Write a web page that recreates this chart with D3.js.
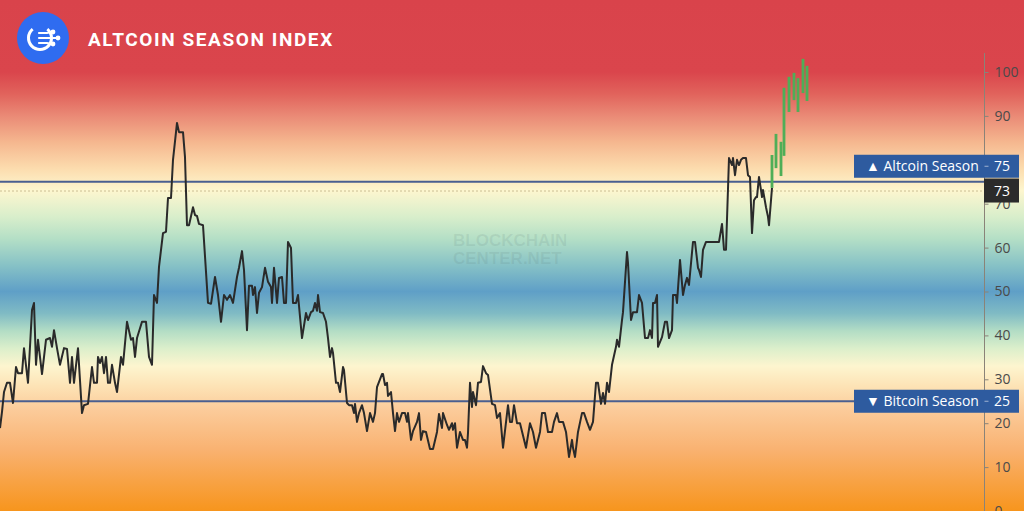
<!DOCTYPE html>
<html><head><meta charset="utf-8">
<script src="https://cdn.jsdelivr.net/npm/d3@7"></script>
<style>html,body{margin:0;padding:0;overflow:hidden;background:#fff}svg{display:block}</style>
</head><body>
<script>
// ---- DATA ----
const title = "ALTCOIN SEASON INDEX";
const watermark = ["BLOCKCHAIN", "CENTER.NET"];
const dayOffsets = [0,2,4,7,10,13,16,18,22,24,28,32,34,36,38,42,46,50,52,54,57,60,64,67,70,72,74,78,82,84,88,92,94,97,98,100,102,104,106,108,110,112,115,117,121,123,127,131,133,135,137,142,146,149,152,154,157,159,163,166,168,171,173,177,179,183,185,187,189,193,195,197,199,203,208,211,215,218,221,224,227,230,233,237,239,242,244,247,249,252,253,255,257,259,262,265,268,271,272,274,277,279,282,284,286,288,291,293,296,298,302,306,308,311,313,315,317,318,320,323,326,328,330,332,333,336,338,340,343,344,347,349,352,354,355,357,359,362,364,367,370,373,375,377,382,383,385,387,388,391,393,395,397,399,402,405,407,408,411,413,417,419,421,423,426,430,433,437,439,442,443,447,449,452,453,455,457,460,463,465,467,468,470,472,473,476,478,481,483,486,488,492,495,497,500,503,508,510,512,514,517,520,526,530,533,536,540,542,545,548,552,554,557,559,563,566,569,572,573,575,578,582,584,587,590,593,596,598,601,603,605,607,609,612,616,617,619,622,623,627,628,631,633,637,639,642,645,648,650,652,653,655,657,658,662,665,667,669,672,673,676,677,680,683,685,687,689,693,695,698,699,701,703,706,719,722,724,726,729,732,733,735,737,739,741,743,746,748,750,752,754,756,757,759,761,762,763,766,768,769,772];
const indexValues = [18.9,22.6,27.1,29.2,29.2,24.6,32.8,31.4,31.4,37.1,29.2,45.8,47.4,33.3,39.0,31.2,39.0,39.4,37.4,41.2,37.1,33.3,37.1,36.9,29.2,35.1,29.2,37.1,22.3,24.1,24.4,32.8,29.2,29.2,35.1,33.7,35.1,31.4,35.1,29.2,29.2,33.3,29.2,27.1,35.1,33.3,43.1,39.0,39.4,35.1,39.4,43.1,43.1,35.1,33.3,49.2,47.4,55.6,63.3,63.6,71.3,71.3,80.0,88.4,86.3,86.3,80.6,65.1,65.1,69.2,67.4,67.2,65.4,65.1,47.4,47.2,53.3,49.2,43.1,49.2,48.1,49.2,47.4,53.3,55.4,59.2,54.9,41.2,51.3,51.3,49.2,51.0,45.1,49.7,51.0,55.4,52.2,51.0,47.4,55.4,47.4,53.1,53.3,47.4,47.4,61.3,59.9,47.4,47.4,49.2,39.4,45.1,43.5,45.3,45.6,47.4,45.6,49.2,45.3,45.1,43.1,39.4,35.1,37.1,36.0,29.2,29.2,27.1,32.8,32.1,24.6,24.1,24.1,22.3,24.4,20.3,22.3,24.1,22.3,18.2,22.3,20.3,22.3,28.2,31.2,31.2,28.7,29.2,26.2,27.1,22.3,18.2,22.3,20.3,22.3,22.3,20.3,22.3,16.2,18.2,20.3,22.3,16.2,18.2,18.0,14.1,14.1,18.0,22.1,18.9,22.3,19.6,18.5,20.0,18.5,20.0,14.4,18.0,16.2,16.2,14.4,17.8,29.2,23.7,27.1,24.1,29.2,29.4,33.0,31.4,31.0,24.4,24.1,21.2,22.3,14.4,24.1,20.3,20.3,24.1,20.0,20.0,14.4,20.0,18.0,14.4,18.0,22.3,22.3,18.0,18.0,20.3,22.3,20.3,20.3,18.0,12.3,16.2,14.4,12.3,18.0,22.3,22.3,20.3,18.5,20.3,29.2,29.2,24.4,26.9,24.4,29.2,27.1,33.3,37.4,39.0,37.4,43.5,45.3,59.0,56.5,43.5,45.3,45.3,49.2,47.4,39.4,39.4,41.2,39.4,47.4,47.4,49.2,37.4,39.6,43.1,43.1,39.4,41.2,49.2,49.2,47.4,57.2,49.2,51.5,53.1,51.5,61.3,61.3,55.4,54.9,53.3,59.5,61.3,61.3,65.4,59.5,59.5,80.4,78.8,80.4,76.5,80.0,78.8,80.0,80.4,80.4,76.5,76.1,63.3,70.8,71.5,71.5,76.1,73.1,71.5,73.1,69.2,67.0,65.1,73.6];
// recent period ranges (green)
const recentDays = [772,776,781,784,789,794,798,803,807];
const recentLow  = [73.6,78.1,76.3,80.9,90.9,93.6,90.9,95.2,93.4];
const recentHigh = [81.1,85.9,84.1,96.4,98.9,99.8,98.6,103.0,101.4];
const yTicks = [0,10,20,30,40,50,60,70,80,90,100];
const hiddenTickLabels = [80]; // covered by the Altcoin Season tag
const seasonLevels = [75, 25];
const seasonLabels = ["\u25B2 Altcoin Season", "\u25BC Bitcoin Season"];
const currentValue = 73;
const bgLevels = [117,100,95,90,84,78,73,67,62,56,50,45,41,37,33,28,23,14,7,0];
const bgColors = ["#d9434b","#da454c","#e1635c","#ea8a76","#f5b78f","#fcdcae","#fdf6cf","#d8eecb","#b4dfc6","#87c2c6","#5f9fc7","#80bbc4","#b3ddc5","#dcefcb","#fdf5cf","#fde1b3","#fbcb9a","#f9b271","#f8a346","#f7951d"];

// ---- CHART ----
const W = 1024, H = 511, axisX = 984.5;
const svg = d3.select("body").append("svg").attr("width", W).attr("height", H);
const y = d3.scaleLinear().domain([0, 100]).range([511, 72]);
const x = d3.scaleLinear().domain([0, 984]).range([0, 984]);

const defs = svg.append("defs");
const grad = defs.append("linearGradient").attr("id", "bg")
  .attr("gradientUnits", "userSpaceOnUse").attr("x1", 0).attr("y1", 0).attr("x2", 0).attr("y2", H);
bgLevels.forEach((v, i) => grad.append("stop").attr("offset", y(v) / H).attr("stop-color", bgColors[i]));
svg.append("rect").attr("width", W).attr("height", H).attr("fill", "url(#bg)");

// watermark
svg.append("g").selectAll("text").data(watermark).join("text")
  .attr("x", 453).attr("y", (d, i) => 246 + i * 18)
  .attr("font-family", "Liberation Sans, Arial, sans-serif").attr("font-weight", "bold")
  .attr("font-size", 17).attr("fill", "#55706e").attr("fill-opacity", 0.12).text(d => d);

// dotted current line
svg.append("line").attr("x1", 0).attr("x2", axisX).attr("y1", y(currentValue) + 0.5).attr("y2", y(currentValue) + 0.5)
  .attr("stroke", "#bfb287").attr("stroke-width", 1).attr("stroke-dasharray", "2,2").attr("opacity", 0.8);

// season lines
svg.append("g").selectAll("line").data(seasonLevels).join("line")
  .attr("x1", 0).attr("x2", axisX).attr("y1", d => y(d)).attr("y2", d => y(d))
  .attr("stroke", "#4a5f90").attr("stroke-width", 1.8);

// main line
const line = d3.line().x((d, i) => x(dayOffsets[i])).y(d => y(d)).curve(d3.curveLinear);
svg.append("path").datum(indexValues).attr("d", line)
  .attr("fill", "none").attr("stroke", "#2a2a2a").attr("stroke-width", 2)
  .attr("stroke-linejoin", "round");

// recent green ranges
svg.append("g").selectAll("line").data(recentDays).join("line")
  .attr("x1", d => x(d)).attr("x2", d => x(d))
  .attr("y1", (d, i) => y(recentLow[i])).attr("y2", (d, i) => y(recentHigh[i]))
  .attr("stroke", "#4fae57").attr("stroke-width", 2.8);

// axis
svg.append("line").attr("x1", axisX).attr("x2", axisX).attr("y1", 53).attr("y2", H)
  .attr("stroke", "#8a8378").attr("stroke-width", 1);
const axis = d3.axisRight(y).tickValues(yTicks).tickSize(4).tickPadding(6)
  .tickFormat(d => hiddenTickLabels.includes(d) ? "" : d);
const ag = svg.append("g").attr("transform", `translate(${axisX},0)`).call(axis);
ag.select(".domain").remove();
ag.selectAll(".tick line").attr("stroke", "#8a8378");
ag.selectAll(".tick text").attr("fill", "#4a4a4a").attr("font-size", 14)
  .attr("font-family", "Open Sans, sans-serif");

// season label boxes
const lab = svg.append("g").selectAll("g").data(seasonLevels).join("g")
  .attr("transform", (d, i) => `translate(0,${i === 0 ? y(d) - 15.5 : y(d)})`);
lab.append("rect").attr("x", 854).attr("y", -11.5).attr("width", 165).attr("height", 23).attr("fill", "#2e5b9f");
lab.append("line").attr("x1", axisX).attr("x2", axisX + 4).attr("y1", 0).attr("y2", 0).attr("stroke", "#9fb2d2");
lab.append("text").attr("x", 866).attr("y", 5).attr("fill", "#fff").attr("font-size", 14)
  .attr("font-family", "Open Sans, sans-serif").text((d, i) => seasonLabels[i]);
lab.append("text").attr("x", 994).attr("y", 5).attr("fill", "#fff").attr("font-size", 14)
  .attr("font-family", "Open Sans, sans-serif").text(d => d);

// current value box
const cg = svg.append("g").attr("transform", `translate(0,${y(currentValue)})`);
cg.append("rect").attr("x", axisX - 0.5).attr("y", -12).attr("width", 35).attr("height", 24).attr("fill", "#2b2b2b");
cg.append("text").attr("x", 994).attr("y", 5).attr("fill", "#fff").attr("font-size", 14)
  .attr("font-family", "Open Sans, sans-serif").text(currentValue);

// logo
const logo = svg.append("g").attr("transform", "translate(43,38)");
logo.append("circle").attr("r", 26).attr("fill", "#2f6cf0");
logo.append("path").attr("d", d3.arc()({innerRadius: 10, outerRadius: 13, startAngle: Math.PI * 0.22, endAngle: Math.PI * 1.78}))
  .attr("transform", "translate(-3,0)").attr("fill", "#fff");
const spokes = [[-5, 7, -6], [0, 12, 0], [5, 7, 6]];
spokes.forEach(s => {
  logo.append("path").attr("d", `M-4,${s[0]} L${s[1] - 3},${s[0]} L${s[1] + 1},${s[2]}`)
    .attr("fill", "none").attr("stroke", "#fff").attr("stroke-width", 2.2).attr("stroke-linecap", "round");
  logo.append("circle").attr("cx", s[1] + 3).attr("cy", s[2]).attr("r", 2.4).attr("fill", "#fff");
});

// title
svg.append("text").attr("x", 88).attr("y", 46).attr("fill", "#fff")
  .attr("font-family", "Roboto, sans-serif").attr("font-weight", "bold").attr("font-size", 19)
  .attr("letter-spacing", 1.6).text(title);
</script>
</body></html>
